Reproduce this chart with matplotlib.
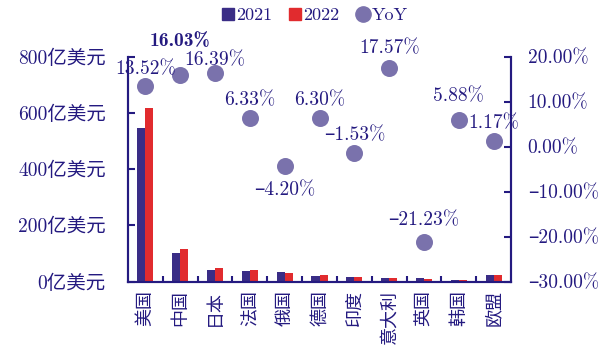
import matplotlib
matplotlib.use("Agg")
import matplotlib.pyplot as plt
from matplotlib.lines import Line2D
import numpy as np

# ---- data -------------------------------------------------------------
countries = ["美国", "中国", "日本", "法国", "俄国", "德国", "印度", "意大利", "英国", "韩国", "欧盟"]
val_2021 = [545, 100, 40, 37, 33, 21, 17, 12, 12, 4.5, 22]
val_2022 = [618, 116, 46.5, 39.3, 31.6, 22.3, 16.7, 14.1, 9.45, 4.76, 22.3]
yoy = [13.52, 16.03, 16.39, 6.33, -4.20, 6.30, -1.53, 17.57, -21.23, 5.88, 1.17]
left_ticks = [0, 200, 400, 600, 800]
right_ticks = [-30, -20, -10, 0, 10, 20]

# ---- style ------------------------------------------------------------
NAVY = "#3A2D86"
RED = "#E12B2E"
DOT = "#7A72AC"
INK = "#241A80"
FONT = ["cmr10", "Noto Sans CJK SC"]
BOLD = ["cmb10", "Noto Sans CJK SC"]
FS = 14

plt.rcParams["axes.unicode_minus"] = False


def pct(v):
    s = f"{v:.2f}%"
    return s.replace("-", "–")


fig = plt.figure(figsize=(6.13, 3.56), dpi=100)
ax = fig.add_axes([128 / 613, 1 - 281.5 / 356, (511 - 128) / 613, (281.5 - 56.7) / 356])
ax2 = ax.twinx()

x = np.arange(len(countries))
w = 0.23
ax.bar(x - w / 2, val_2021, w, color=NAVY, zorder=2)
ax.bar(x + w / 2, val_2022, w, color=RED, zorder=2)

ax.set_xlim(-0.5, len(countries) - 0.5)
ax.set_ylim(0, 800)
ax.set_yticks(left_ticks)
ax.set_yticklabels([f"{t}亿美元" for t in left_ticks], family=FONT, fontsize=FS, color=INK)
ax.set_xticks(x)
ax.set_xticklabels(countries, rotation=90, family=FONT, fontsize=13, color=INK, va="top")
ax.set_xticks(np.arange(0.5, len(countries) - 0.5, 1), minor=True)
ax.tick_params(axis="x", which="major", length=0, pad=6)
ax.tick_params(axis="x", which="minor", direction="in", length=4, width=1.5, color=INK)
ax.tick_params(axis="y", direction="in", length=5, width=1.5, color=INK, pad=16)

ax2.set_ylim(-30, 20)
ax2.set_yticks(right_ticks)
ax2.set_yticklabels([pct(t) for t in right_ticks], family=FONT, fontsize=FS, color=INK)
ax2.tick_params(axis="y", direction="in", length=5, width=1.5, color=INK, pad=12)
ax2.scatter(x, yoy, s=150, color=DOT, zorder=3, linewidths=0)

for a in (ax, ax2):
    a.spines["top"].set_visible(False)
    for side in ("left", "right", "bottom"):
        a.spines[side].set_color(INK)
        a.spines[side].set_linewidth(1.5)

# value labels for the YoY dots
offsets = [12, 24, 9, 13, -18, 13, 13, 14, 16, 17, 13]
for i, (xi, v) in enumerate(zip(x, yoy)):
    bold = countries[i] == "中国"
    ax2.annotate(pct(v), (xi, v), xytext=(0, offsets[i]), textcoords="offset points",
                 ha="center", va="center", fontsize=FS, color=INK,
                 family=BOLD if bold else FONT, zorder=4)

handles = [
    Line2D([], [], marker="s", linestyle="none", color=NAVY, markersize=8),
    Line2D([], [], marker="s", linestyle="none", color=RED, markersize=8),
    Line2D([], [], marker="o", linestyle="none", color=DOT, markersize=11),
]
leg = fig.legend(handles, ["2021", "2022", "YoY"], loc="center", bbox_to_anchor=(314 / 613, 1 - 15 / 356),
                 ncol=3, frameon=False, prop={"family": FONT, "size": 13},
                 handletextpad=0.05, columnspacing=0.9, handlelength=0.8)
for t in leg.get_texts():
    t.set_color(INK)

fig.savefig("out.png", dpi=100)
